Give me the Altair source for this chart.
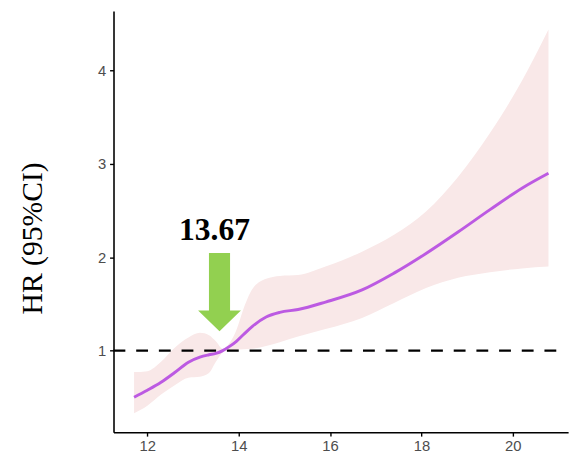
import altair as alt
import pandas as pd

# Spline estimates
x_vals = [11.71, 12.0, 12.3, 12.6, 12.9, 13.15, 13.35, 13.5, 13.65, 13.8, 13.95, 14.1,
          14.3, 14.6, 14.9, 15.3, 15.9, 16.7, 17.4, 18.1, 18.8, 19.5, 20.2, 20.78]
hr_vals = [0.50, 0.575, 0.66, 0.765, 0.875, 0.93, 0.955, 0.97, 1.00, 1.045, 1.10, 1.17,
           1.26, 1.36, 1.41, 1.44, 1.52, 1.65, 1.83, 2.04, 2.27, 2.51, 2.74, 2.90]
lower_vals = [0.33, 0.41, 0.53, 0.63, 0.71, 0.72, 0.76, 0.88, 0.98, 1.005, 1.01, 1.015,
              1.02, 1.05, 1.09, 1.15, 1.23, 1.35, 1.51, 1.67, 1.78, 1.84, 1.88, 1.90]
upper_vals = [0.77, 0.78, 0.88, 1.03, 1.14, 1.19, 1.165, 1.10, 1.02, 1.08, 1.22, 1.44,
              1.66, 1.77, 1.80, 1.81, 1.90, 2.06, 2.24, 2.49, 2.86, 3.33, 3.89, 4.44]

x_ticks = [12, 14, 16, 18, 20]
y_ticks = [1, 2, 3, 4]
x_domain = [11.26, 21.21]
y_domain = [0.126, 4.637]

ref_hr = 1.0
ref_x_start = 11.26
ref_x_end = 21.01

cutoff_label = "13.67"
label_x = 13.47
label_y = 2.18
arrow_x = 13.58
arrow_tip_y = 1.207

df = pd.DataFrame({"x": x_vals, "hr": hr_vals, "lo": lower_vals, "hi": upper_vals})
ref_df = pd.DataFrame({"x": [ref_x_start], "x2": [ref_x_end], "y": [ref_hr]})
lab_df = pd.DataFrame({"x": [label_x], "y": [label_y], "t": [cutoff_label]})
arr_df = pd.DataFrame({"x": [arrow_x], "y": [arrow_tip_y]})

xs = alt.Scale(domain=x_domain, nice=False, zero=False)
ys = alt.Scale(domain=y_domain, nice=False, zero=False)

x_axis = alt.Axis(values=x_ticks, format="d", title=None, grid=False, domainColor="black",
                  domainWidth=1.6, tickColor="black", tickWidth=1.4, tickSize=4,
                  labelColor="#4d4d4d", labelFont="Liberation Sans", labelFontSize=15,
                  labelPadding=3)
y_axis = alt.Axis(values=y_ticks, format="d", title="HR (95%CI)", grid=False, domainColor="black",
                  domainWidth=1.6, tickColor="black", tickWidth=1.4, tickSize=4,
                  labelColor="#4d4d4d", labelFont="Liberation Sans", labelFontSize=15,
                  labelPadding=4, titleFont="Liberation Serif", titleFontSize=30,
                  titleFontWeight="normal", titleColor="black", titleAngle=270,
                  titleX=-82, titleY=230, titleAlign="center", titleBaseline="middle")

band = alt.Chart(df).mark_area(color="#f9e8e8", opacity=1, interpolate="monotone").encode(
    x=alt.X("x:Q", scale=xs, axis=x_axis),
    y=alt.Y("lo:Q", scale=ys, axis=y_axis),
    y2="hi:Q",
)

ref = alt.Chart(ref_df).mark_rule(color="black", strokeWidth=2.2, strokeDash=[12, 11]).encode(
    x=alt.X("x:Q", scale=xs),
    x2="x2:Q",
    y=alt.Y("y:Q", scale=ys),
)

line = alt.Chart(df).mark_line(color="#bc5ae2", strokeWidth=3, interpolate="monotone").encode(
    x=alt.X("x:Q", scale=xs),
    y=alt.Y("hr:Q", scale=ys),
)

arrow_path = "M0,0 L-2.17,-2.1 L-1.07,-2.1 L-1.07,-7.94 L1.07,-7.94 L1.07,-2.1 L2.17,-2.1 Z"
arrow = alt.Chart(arr_df).mark_point(shape=arrow_path, filled=True, color="#92d050",
                                     opacity=1, size=400, strokeWidth=0).encode(
    x=alt.X("x:Q", scale=xs),
    y=alt.Y("y:Q", scale=ys),
)

label = alt.Chart(lab_df).mark_text(font="Liberation Serif", fontSize=32, fontWeight="bold",
                                    color="black", align="center", baseline="alphabetic").encode(
    x=alt.X("x:Q", scale=xs),
    y=alt.Y("y:Q", scale=ys),
    text="t:N",
)

chart = alt.layer(band, ref, line, arrow, label).properties(
    width=461, height=427,
    autosize=alt.AutoSizeParams(type="none"),
    padding={"left": 107, "top": 0, "right": 8, "bottom": 20},
).configure_view(stroke=None)

chart.save("out.html", embed_options={"renderer": "svg", "actions": False})
